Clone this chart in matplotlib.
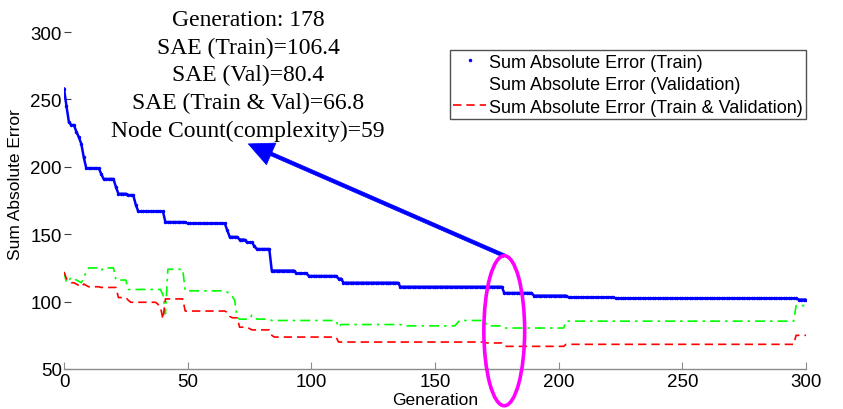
import matplotlib.pyplot as plt
import numpy as np
from matplotlib.patches import Ellipse
from matplotlib.lines import Line2D

plt.rcParams['font.family'] = ['Liberation Sans', 'DejaVu Sans']

n_gen = 301
gens = np.arange(n_gen)

# step data: generation where each level starts, and the level value
train_start = [0, 1, 2, 3, 5, 6, 7, 8, 9, 15, 16, 21, 22, 26, 29, 30, 41, 50, 66, 67,
               71, 74, 77, 78, 84, 94, 99, 111, 113, 136, 178, 190, 204, 223, 297]
train_sae = [258, 245, 233, 231, 226, 222, 217, 207, 199, 195, 191, 185, 180, 179, 172,
             167, 159, 158, 153, 148, 146, 144, 141, 139, 123, 121, 119, 117, 114, 111,
             106.4, 104.4, 103.2, 102.5, 101.5]

val_start = [0, 1, 2, 3, 4, 5, 6, 7, 8, 9, 10, 15, 16, 21, 26, 40, 41, 42, 49, 66, 67,
             68, 69, 70, 71, 76, 77, 78, 84, 111, 112, 137, 159, 160, 171, 178, 203, 296]
val_sae = [122, 114, 116, 118, 117, 116, 115, 114, 118, 122, 125, 123, 125, 116, 109,
           105, 91, 124, 108, 107, 106, 104, 101, 88, 87, 90, 89, 87, 86, 81, 83, 82,
           84, 86, 82, 80.4, 85.5, 97]

tv_start = [0, 1, 2, 3, 5, 6, 7, 8, 9, 10, 15, 22, 26, 27, 38, 39, 40, 41, 49, 66, 67,
            68, 71, 75, 76, 84, 85, 111, 171, 178, 203, 296]
tv_sae = [122, 117, 115, 114, 113, 112, 111, 113, 112, 111, 110.5, 103, 101, 99.5, 98,
          96, 87, 102, 93, 92, 89, 88, 81, 80, 79, 75, 73.7, 70, 69.3, 66.8, 68.3, 75]

labels = ['Sum Absolute Error (Train)',
          'Sum Absolute Error (Validation)',
          'Sum Absolute Error (Train & Validation)']

best_gen = 178
node_count = 59


def expand(starts, vals):
    runs = np.diff(starts + [n_gen])
    return np.repeat(vals, runs)


train = expand(train_start, train_sae)
val = expand(val_start, val_sae)
tv = expand(tv_start, tv_sae)

fig = plt.figure(figsize=(8.43, 4.10), dpi=100)
ax = fig.add_axes([64/843, 40/410, 742/843, 370/410])

ax.plot(gens, train, color='#0000ff', lw=1.8, marker='.', ms=3)
ax.plot(gens, val, color='#00ff00', lw=1.2, dashes=(6, 3, 1.5, 3))
ax.plot(gens, tv, color='#ff0000', lw=1.2, dashes=(5, 3))

ax.set_xlim(0, 300)
ax.set_ylim(50, 324.5)
ax.set_xticks(range(0, 301, 50))
ax.set_yticks(range(50, 301, 50))
for s in ['top', 'right', 'left']:
    ax.spines[s].set_visible(False)
ax.spines['bottom'].set_color('#8c8c8c')
ax.spines['bottom'].set_linewidth(1.0)
ax.tick_params(axis='x', direction='in', length=5, color='#8c8c8c', labelsize=13.5, pad=3)
ax.tick_params(axis='y', direction='in', length=5, color='#404040', labelsize=13.5, pad=1.5)
ax.set_xlabel('Generation', fontsize=12.5, labelpad=1)
ax.set_ylabel('Sum Absolute Error', fontsize=12.5, labelpad=5)

handles = [Line2D([], [], color='#0000ff', ls='none', marker='.', ms=3),
           Line2D([], [], color='none'),
           Line2D([], [], color='#ff0000', lw=1.2, dashes=(5, 3))]
leg = ax.legend(handles, labels, loc='upper right', bbox_to_anchor=(1.0, 0.862),
                borderaxespad=0, fontsize=13, fancybox=False, framealpha=1,
                edgecolor='#505050', handlelength=1.8, handletextpad=0.15,
                labelspacing=0.3, borderpad=0.2)
leg.get_frame().set_linewidth(1.0)

# summary of the best individual
info = (f'Generation: {best_gen}\n'
        f'SAE (Train)={train[best_gen]:.1f}\n'
        f'SAE (Val)={val[best_gen]:.1f}\n'
        f'SAE (Train & Val)={tv[best_gen]:.1f}\n'
        f'Node Count(complexity)={node_count}')
fig.text(248/843, 1 - 76/410, info, ha='center', va='center', fontsize=17,
         family=['Liberation Serif'], linespacing=1.4)

ell_h = 111.3
ell_cy = 78.4
ax.add_patch(Ellipse((best_gen, ell_cy), 16.5, ell_h, fill=False,
                     edgecolor='#ff00ff', lw=2.6, clip_on=False, zorder=5))
ax.annotate('', xy=(74.5, 217), xytext=(best_gen, ell_cy + ell_h / 2),
            arrowprops=dict(facecolor='#0000ff', edgecolor='#0000ff', width=2.6,
                            headwidth=17, headlength=18, shrink=0.0, lw=0.5))

fig.savefig('out.png', dpi=100)
